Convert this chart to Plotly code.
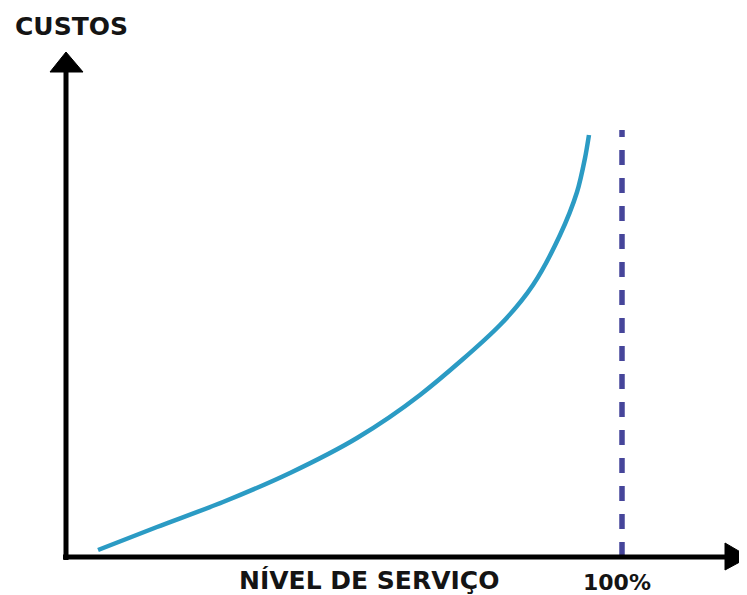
import plotly.graph_objects as go

# ---- data (service level %, relative cost) ----
service_level = [5.76, 16.37, 28.24, 40.29, 52.34, 63.67, 78.06, 83.99, 88.85, 91.91, 93.35, 94.06]
cost = [1.66, 7.11, 13.03, 19.91, 28.20, 38.39, 54.98, 64.45, 76.30, 86.49, 94.55, 100.0]
limit_level = 100
limit_label = "100%"
x_title = "NÍVEL DE SERVIÇO"
y_title = "CUSTOS"

# ---- layout geometry (page pixels) ----
PAGE_W, PAGE_H = 747, 595
OFF = 8                        # default body margin of the page
W, H = PAGE_W - OFF, PAGE_H - OFF
X0_PX, X100_PX = 66, 622      # page pixel of x=0 and x=100
Y0_PX, Y100_PX = 557, 135     # page pixel of y=0 and y=100
sx = (X100_PX - X0_PX) / 100.0
sy = (Y0_PX - Y100_PX) / 100.0


def dx(px):
    return (px - X0_PX) / sx


def dy(py):
    return (Y0_PX - py) / sy


x_range = [dx(OFF), dx(PAGE_W)]
y_range = [dy(PAGE_H), dy(OFF)]

AXIS_COLOR = "black"
CURVE_COLOR = "#2b9bc4"
DASH_COLOR = "#46459a"

fig = go.Figure()

fig.add_trace(go.Scatter(
    x=service_level, y=cost, mode="lines",
    line=dict(color=CURVE_COLOR, width=4.5, shape="spline", smoothing=0.8),
    hoverinfo="skip", showlegend=False,
))

# dashed limit line at 100%
fig.add_trace(go.Scatter(
    x=[limit_level, limit_level], y=[0, dy(130)], mode="lines",
    line=dict(color=DASH_COLOR, width=5.5, dash="15px,13px"),
    hoverinfo="skip", showlegend=False,
))

shapes = [
    # y axis shaft
    dict(type="line", xref="x", yref="y", x0=0, x1=0, y0=dy(Y0_PX + 3), y1=dy(70),
         line=dict(color=AXIS_COLOR, width=5)),
    # x axis shaft
    dict(type="line", xref="x", yref="y", x0=dx(X0_PX - 3), x1=dx(728), y0=0, y1=0,
         line=dict(color=AXIS_COLOR, width=5)),
    # y arrowhead
    dict(type="path", xref="x", yref="y",
         path=f"M {dx(66)} {dy(52)} L {dx(50)} {dy(72)} L {dx(83)} {dy(72)} Z",
         fillcolor=AXIS_COLOR, line=dict(color=AXIS_COLOR, width=1)),
    # x arrowhead
    dict(type="path", xref="x", yref="y",
         path=f"M {dx(749)} {dy(557)} L {dx(725)} {dy(543)} L {dx(725)} {dy(570)} Z",
         fillcolor=AXIS_COLOR, line=dict(color=AXIS_COLOR, width=1)),
]

font_b = dict(family="DejaVu Sans", size=25, color="#141414", weight="bold")

annotations = [
    dict(text=y_title, xref="x", yref="y", x=dx(71), y=dy(26), showarrow=False,
         font=font_b, xanchor="center", yanchor="middle"),
    dict(text=x_title, xref="x", yref="y", x=dx(369), y=dy(580), showarrow=False,
         font=font_b, xanchor="center", yanchor="middle"),
    dict(text=limit_label, xref="x", yref="y", x=dx(617), y=dy(582), showarrow=False,
         font=dict(family="DejaVu Sans", size=22, color="#141414", weight="bold"),
         xanchor="center", yanchor="middle"),
]

fig.update_layout(
    width=W, height=H,
    margin=dict(l=0, r=0, t=0, b=0),
    paper_bgcolor="white", plot_bgcolor="white",
    shapes=shapes, annotations=annotations,
    xaxis=dict(range=x_range, visible=False, fixedrange=True),
    yaxis=dict(range=y_range, visible=False, fixedrange=True),
    showlegend=False,
)

fig.write_html("out.html", config={"displayModeBar": False})
